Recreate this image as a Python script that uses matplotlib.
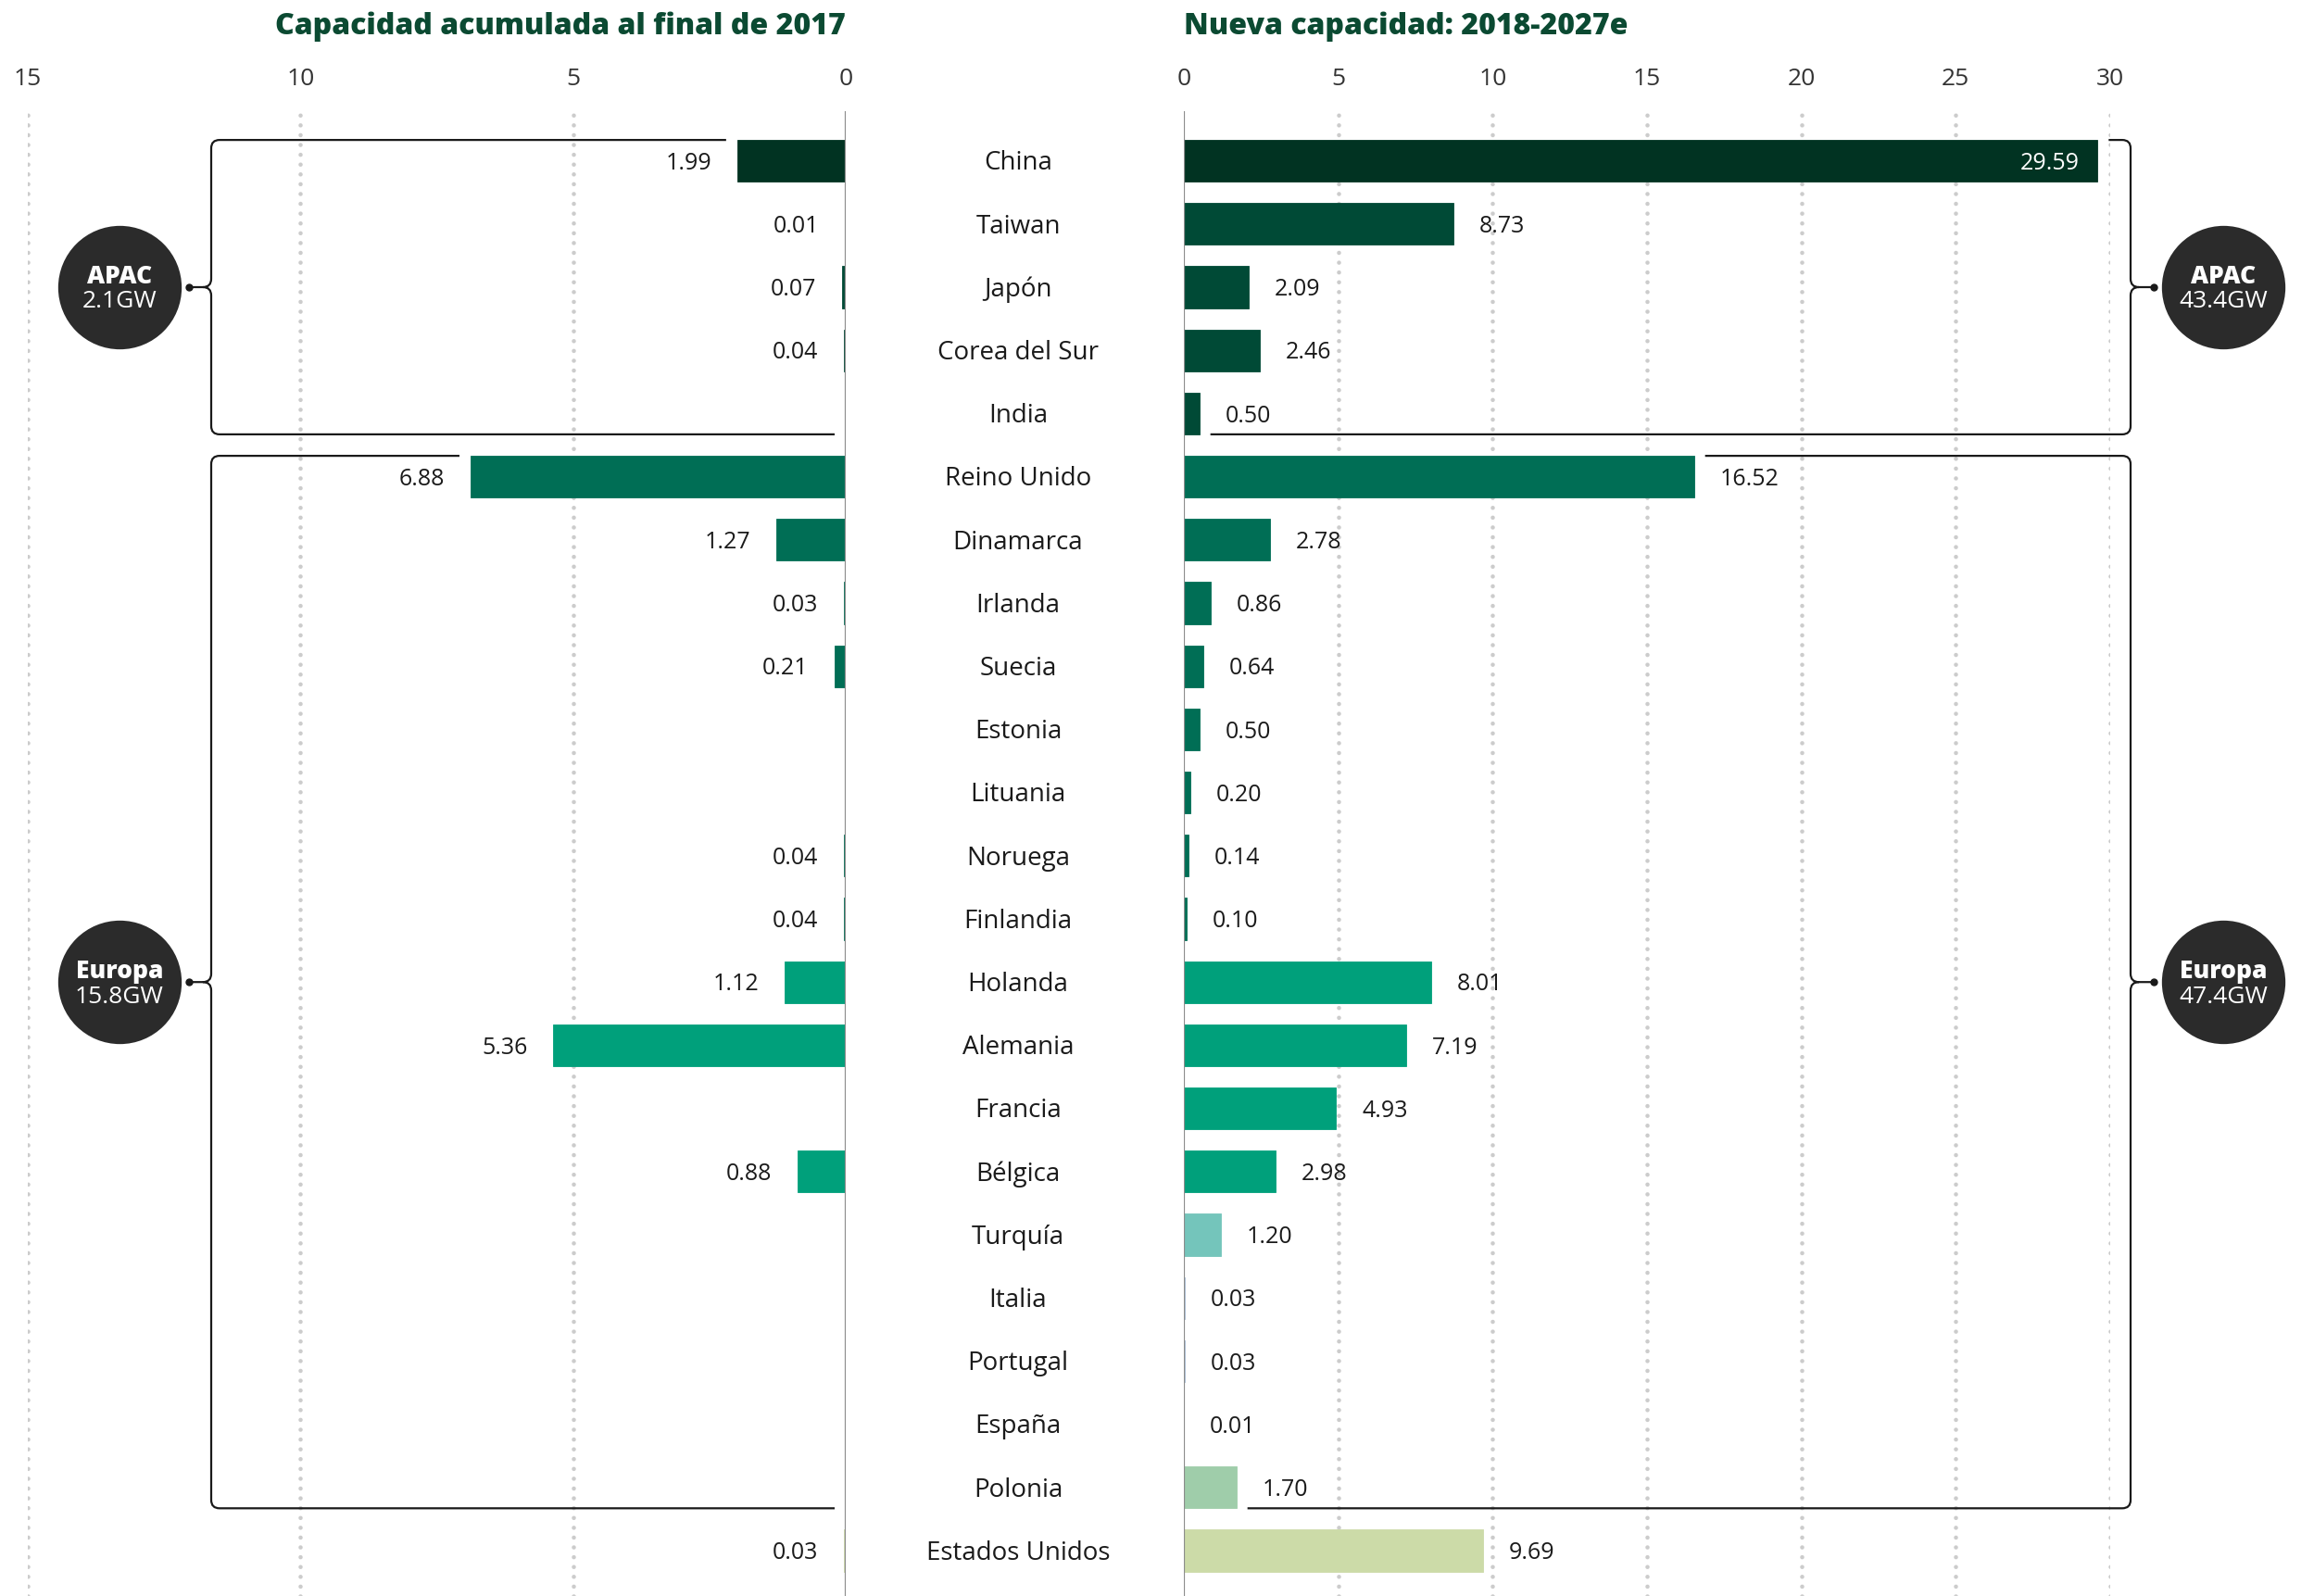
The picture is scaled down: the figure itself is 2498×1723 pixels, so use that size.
import numpy as np
import matplotlib
matplotlib.use("Agg")
import matplotlib.pyplot as plt
from matplotlib.path import Path
from matplotlib.patches import PathPatch
from matplotlib.transforms import blended_transform_factory, offset_copy

plt.rcParams['font.family'] = ['Open Sans', 'DejaVu Sans']

# Canvas size in pixels (saved at 100 dpi)
W, H = 2498, 1723

countries = ["China", "Taiwan", "Japón", "Corea del Sur", "India",
             "Reino Unido", "Dinamarca", "Irlanda", "Suecia", "Estonia",
             "Lituania", "Noruega", "Finlandia", "Holanda", "Alemania",
             "Francia", "Bélgica", "Turquía", "Italia", "Portugal",
             "España", "Polonia", "Estados Unidos"]

# GW installed by end of 2017 (None = no capacity)
cap_2017 = [1.99, 0.01, 0.07, 0.04, None,
            6.88, 1.27, 0.03, 0.21, None,
            None, 0.04, 0.04, 1.12, 5.36,
            None, 0.88, None, None, None,
            None, None, 0.03]

# new GW expected 2018-2027
new_cap = [29.59, 8.73, 2.09, 2.46, 0.50,
           16.52, 2.78, 0.86, 0.64, 0.50,
           0.20, 0.14, 0.10, 8.01, 7.19,
           4.93, 2.98, 1.20, 0.03, 0.03,
           0.01, 1.70, 9.69]

bar_colors = ["#013322", "#004a36", "#004a36", "#004a36", "#004a36",
              "#006e55", "#006e55", "#006e55", "#006e55", "#006e55",
              "#006e55", "#006e55", "#006e55", "#00a07b", "#00a07b",
              "#00a07b", "#00a07b", "#74c5bb", "#a9bfd9", "#a9bfd9",
              "#a9bfd9", "#9fcdaa", "#ccdba8"]

group_names = ["APAC", "Europa"]
group_first = [0, 5]
group_last = [4, 21]
group_total_2017 = ["2.1GW", "15.8GW"]
group_total_new = ["43.4GW", "47.4GW"]

left_ticks = [0, 5, 10, 15]
right_ticks = [0, 5, 10, 15, 20, 25, 30]

TITLE_GREEN = "#0b4a32"
TEXT = "#1a1a1a"
GRID = "#cccccc"

# ---- layout (pixels) ----
top_px = 120
row0_px = 173.6
row_step = 68.2
n = len(countries)
ylo = -(row0_px - top_px) / row_step
yhi = (n - 1) + (H - (row0_px + (n - 1) * row_step)) / row_step
bar_h = 0.66

fig = plt.figure(figsize=(W / 100, H / 100), dpi=100)
ax_l = fig.add_axes([30 / W, 0, (913 - 30) / W, 1 - top_px / H])
ax_r = fig.add_axes([1278 / W, 0, 1000 / W, 1 - top_px / H])

ax_l.set_xlim(15, 0)
ax_r.set_xlim(0, 30)

idx = np.arange(n)
for ax, ticks in ((ax_l, left_ticks), (ax_r, right_ticks)):
    ax.set_ylim(yhi, ylo)
    ax.set_yticks([])
    for s in ax.spines.values():
        s.set_visible(False)
    ax.patch.set_visible(False)
    ax.xaxis.tick_top()
    ax.set_xticks(ticks)
    ax.set_xticklabels([str(t) for t in ticks])
    ax.tick_params(axis='x', length=0, pad=16, labelsize=19, labelcolor="#333333")
    for t in ticks[1:]:
        ax.axvline(t, color=GRID, lw=3.3, linestyle=(0, (0.01, 2.3)),
                   dash_capstyle='round', zorder=0)
    ax.axvline(0, color="#8c8c8c", lw=1.6, zorder=3)

left_vals = [v if v is not None else 0 for v in cap_2017]
# thin matching edge keeps the very small values visible as hairlines
ax_l.barh(idx, left_vals, height=bar_h, color=bar_colors, edgecolor=bar_colors,
          linewidth=0.6, zorder=2)
ax_r.barh(idx, new_cap, height=bar_h, color=bar_colors, edgecolor=bar_colors,
          linewidth=0.6, zorder=2)

# value labels
for i, v in enumerate(cap_2017):
    if v is None:
        continue
    ax_l.annotate(f"{v:.2f}", xy=(v, i), xytext=(-20, -2), textcoords='offset points',
                  ha='right', va='center', fontsize=18, color=TEXT)
for i, v in enumerate(new_cap):
    if i == 0:
        ax_r.annotate(f"{v:.2f}", xy=(v, i), xytext=(-14, -2), textcoords='offset points',
                      ha='right', va='center', fontsize=18, color="white")
    else:
        ax_r.annotate(f"{v:.2f}", xy=(v, i), xytext=(20, -2), textcoords='offset points',
                      ha='left', va='center', fontsize=18, color=TEXT)

# country names between the two panels
name_tr = offset_copy(blended_transform_factory(fig.transFigure, ax_r.transData),
                      fig=fig, x=0, y=-2, units='points')
for i, name in enumerate(countries):
    ax_r.text(1099 / W, i, name, transform=name_tr, ha='center', va='center',
              fontsize=20, color=TEXT)

# panel titles
fig.text(913 / W, 1 - 29 / H, "Capacidad acumulada al final de 2017", ha='right',
         va='center', fontsize=23, fontweight='heavy', color=TITLE_GREEN)
fig.text(1278 / W, 1 - 29 / H, "Nueva capacidad: 2018-2027e", ha='left',
         va='center', fontsize=23, fontweight='heavy', color=TITLE_GREEN)

# ---- regional brackets and totals, drawn in pixel space ----
deco = fig.add_axes([0, 0, 1, 1])
deco.set_xlim(0, W)
deco.set_ylim(H, 0)
deco.axis('off')


def to_px(ax, x, y):
    dx, dy = ax.transData.transform((x, y))
    return dx, H - dy


def bracket(xv, y_top, y_bot, x_top_end, x_bot_end, x_dot, side, r=9):
    ym = (y_top + y_bot) / 2
    verts = [(x_top_end, y_top), (xv + side * r, y_top), (xv, y_top), (xv, y_top + r),
             (xv, ym - r), (xv, ym), (xv - side * r, ym),
             (xv - side * r, ym), (xv, ym), (xv, ym + r),
             (xv, y_bot - r), (xv, y_bot), (xv + side * r, y_bot), (x_bot_end, y_bot),
             (xv - side * r, ym), (x_dot, ym)]
    codes = [Path.MOVETO, Path.LINETO, Path.CURVE3, Path.CURVE3,
             Path.LINETO, Path.CURVE3, Path.CURVE3,
             Path.MOVETO, Path.CURVE3, Path.CURVE3,
             Path.LINETO, Path.CURVE3, Path.CURVE3, Path.LINETO,
             Path.MOVETO, Path.LINETO]
    deco.add_patch(PathPatch(Path(verts, codes), fill=False, lw=1.6,
                             edgecolor=TEXT, capstyle='butt'))
    deco.plot(x_dot, ym, 'o', ms=5, color=TEXT)
    return ym


def badge(cx, cy, name, total):
    deco.plot(cx, cy, 'o', ms=96, color="#2b2b2b", mec='none')
    deco.text(cx, cy - 11, name, ha='center', va='center', fontsize=19,
              fontweight='heavy', color='white')
    deco.text(cx, cy + 16, total, ha='center', va='center', fontsize=19,
              color='white')


gap = 12
for g in range(len(group_names)):
    a, b = group_first[g], group_last[g]
    # left panel
    _, yt = to_px(ax_l, 0, a - bar_h / 2)
    _, yb = to_px(ax_l, 0, b + bar_h / 2)
    xa, _ = to_px(ax_l, left_vals[a], a)
    xb, _ = to_px(ax_l, left_vals[b], b)
    ym = bracket(228, yt, yb, xa - gap, xb - gap, 204, +1)
    badge(129, ym, group_names[g], group_total_2017[g])
    # right panel
    xa, _ = to_px(ax_r, new_cap[a], a)
    xb, _ = to_px(ax_r, new_cap[b], b)
    ym = bracket(2300, yt, yb, xa + gap, xb + gap, 2325, -1)
    badge(2400, ym, group_names[g], group_total_new[g])

fig.savefig("out.png", dpi=100)
